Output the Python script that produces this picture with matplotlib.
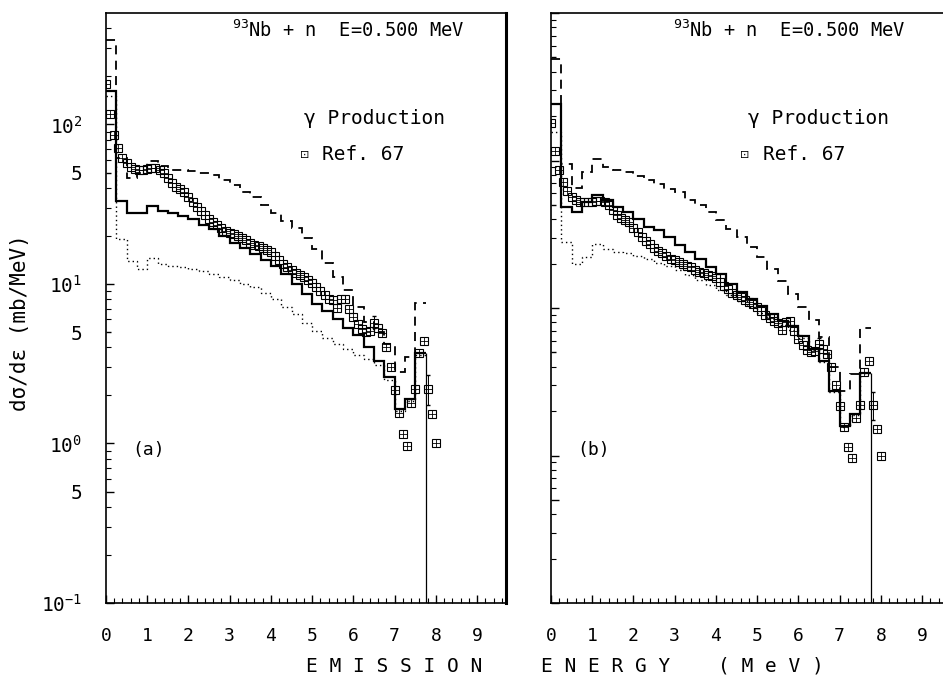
import numpy as np
import matplotlib
matplotlib.use("Agg")
import matplotlib.pyplot as plt
from matplotlib.ticker import FixedLocator, FixedFormatter, MultipleLocator, NullFormatter, LogLocator

W, H = 943, 679

plt.rcParams['font.family'] = ['DejaVu Sans Mono', 'DejaVu Sans']
plt.rcParams['mathtext.fontset'] = 'custom'
plt.rcParams['mathtext.rm'] = 'DejaVu Sans Mono'
plt.rcParams['mathtext.default'] = 'rm'

# histogram bins (MeV)
bin_edges = [0.0, 0.25, 0.5, 0.75, 1.0, 1.25, 1.5, 1.75, 2.0, 2.25, 2.5, 2.75,
             3.0, 3.25, 3.5, 3.75, 4.0, 4.25, 4.5, 4.75, 5.0, 5.25, 5.5, 5.75,
             6.0, 6.25, 6.5, 6.75, 7.0, 7.25, 7.5, 7.75]

# panel (a) calculations
solid_a = [163, 33, 28, 28, 31, 28.6, 27.9, 26.6, 25.4, 23.6, 22, 20, 18.1, 16.8, 15.5,
           14.2, 13.0, 11.5, 10.0, 8.6, 7.5, 6.8, 6.0, 5.3, 4.8, 4.0, 3.3, 2.6, 1.65, 1.9, 3.7]
dashed_a = [340, 62, 46, 50, 59, 55, 52, 52, 51, 50, 48, 45, 42, 38, 35, 31.5, 28, 25,
            22.5, 19.4, 16.5, 13.5, 11, 9.2, 7.2, 5.8, 5.0, 4.2, 2.8, 3.5, 7.6]
dotted_a = [150, 19.2, 14, 12.5, 14.5, 13.3, 13, 12.8, 12.4, 12.0, 11.5, 11.1, 10.6, 10.0,
            9.6, 8.8, 8.0, 7.2, 6.5, 5.7, 5.1, 4.6, 4.2, 3.9, 3.6, 3.4, 3.1, 2.5, 1.6, 1.85, 3.6]

# panel (b) calculations
solid_b = [242, 48.4, 44.8, 52.4, 58, 53.7, 48.4, 44.8, 40.3, 35.4, 33.6, 30.3, 26.6, 23.9,
           21.5, 19, 17, 14.5, 12.8, 11.5, 10.3, 9.1, 8.2, 7.5, 6.5, 5.3, 4.4, 2.75, 1.58, 1.9, 3.65]
dashed_b = [490, 95, 65, 84, 103, 91, 86, 83, 78, 74, 69, 64.5, 61, 54, 50, 45, 39.3, 34.4,
            30.4, 26, 22.2, 18.4, 15.3, 12.4, 10.2, 8.3, 6.4, 4.0, 2.73, 3.56, 7.3]
dotted_b = [157, 28, 20, 22, 27, 25, 24, 23.5, 22.5, 21.5, 20.3, 19.2, 18, 16.8, 15.5, 14.3,
            13.2, 12.2, 11.2, 10.2, 9.2, 8.4, 7.7, 7.1, 6.3, 5.2, 4.3, 2.7, 1.56, 1.88, 3.6]

# Ref. 67 experimental points
ref_e = [0.0, 0.1, 0.2, 0.3, 0.4, 0.5, 0.6, 0.7, 0.8, 0.9,
         1.0, 1.1, 1.2, 1.3, 1.4, 1.5, 1.6, 1.7, 1.8, 1.9,
         2.0, 2.1, 2.2, 2.3, 2.4, 2.5, 2.6, 2.7, 2.8, 2.9,
         3.0, 3.1, 3.2, 3.3, 3.4, 3.5, 3.6, 3.7, 3.8, 3.9,
         4.0, 4.1, 4.2, 4.3, 4.4, 4.5, 4.6, 4.7, 4.8, 4.9,
         5.0, 5.1, 5.2, 5.3, 5.4, 5.5, 5.6, 5.7, 5.8, 5.9,
         6.0, 6.1, 6.2, 6.3, 6.4, 6.5, 6.6, 6.7, 6.8, 6.9,
         7.0, 7.1, 7.2, 7.3, 7.4, 7.5, 7.6, 7.7, 7.8, 7.9, 8.0]
ref_v = [180, 116, 86, 71, 62, 57, 54, 52.5, 52, 52,
         52.5, 53.5, 53, 52, 50, 46, 43, 40.5, 39.5, 38,
         35, 32.5, 30.5, 28.5, 27, 25.5, 24.5, 23.5, 22.5, 21.5,
         21, 20.5, 20, 19.4, 18.9, 18.2, 17.6, 17.2, 16.8, 16.4,
         15.9, 15, 14.2, 13.4, 12.7, 12.2, 11.8, 11.4, 11.0, 10.6,
         10.2, 9.6, 9.0, 8.5, 8.1, 7.9, 7.1, 8.0, 8.1, 7.0,
         6.2, 5.6, 5.2, 5.0, 5.1, 5.7, 5.3, 4.9, 4.0, 3.0,
         2.15, 1.55, 1.14, 0.96, 1.8, 2.2, 3.7, 4.4, 2.2, 1.52, 1.0]
err_e = [6.5, 7.8]
err_lo = [5.3, 1.75]
err_hi = [6.3, 2.7]

ytick_vals_a = [0.1, 0.5, 1, 5, 10, 50, 100]
ytick_labels_a = ['$10^{-1}$', '5', '$10^{0}$', '5', '$10^{1}$', '5', '$10^{2}$']
ytick_vals_b = [0.1, 0.5, 1, 5, 10, 50, 100, 500, 1000]
xtick_vals = [0, 1, 2, 3, 4, 5, 6, 7, 8, 9]


def px(x, y):
    return x / W, 1 - y / H


def draw_panel(ax, solid, dashed, dotted, ytop, yticks, ylabels):
    ax.set_yscale('log')
    ax.set_xlim(0, 9.7)
    ax.set_ylim(0.1, ytop)

    ax.stairs(dotted, bin_edges, baseline=None, color='k', lw=1.0, ls=(0, (1, 2.2)))
    ax.stairs(dashed, bin_edges, baseline=None, color='k', lw=1.3, ls=(0, (5, 3.5)))
    ax.stairs(solid, bin_edges, baseline=None, color='k', lw=1.6)
    ax.vlines(bin_edges[-1], 0.1, solid[-1], color='k', lw=0.9)

    ax.plot(ref_e, ref_v, ls='none', marker='s', ms=6, mfc='none', mec='k', mew=0.8)
    ax.plot(ref_e, ref_v, ls='none', marker='+', ms=6, mec='k', mew=0.6)
    err_v = [ref_v[ref_e.index(e)] for e in err_e]
    yerr = [[v - lo for v, lo in zip(err_v, err_lo)], [hi - v for v, hi in zip(err_v, err_hi)]]
    ax.errorbar(err_e, err_v, yerr=yerr, fmt='none', ecolor='k', elinewidth=0.7, capsize=1.5)

    ax.xaxis.set_major_locator(FixedLocator(xtick_vals))
    ax.xaxis.set_minor_locator(MultipleLocator(0.2))
    ax.yaxis.set_major_locator(FixedLocator(yticks))
    ax.yaxis.set_minor_locator(LogLocator(base=10, subs=(2, 3, 4, 6, 7, 8, 9)))
    ax.yaxis.set_minor_formatter(NullFormatter())
    if ylabels is None:
        ax.yaxis.set_major_formatter(NullFormatter())
    else:
        ax.yaxis.set_major_formatter(FixedFormatter(ylabels))

    ax.tick_params(axis='both', which='major', direction='in', length=6, width=1, color='k')
    ax.tick_params(axis='both', which='minor', direction='in', length=3.5, width=0.8, color='k')
    ax.tick_params(axis='x', which='major', labelsize=13, pad=17)
    ax.tick_params(axis='y', which='major', labelsize=14, pad=17)
    # the 5's get short ticks, decades long ones
    for val, tick in zip(yticks, ax.yaxis.get_major_ticks()):
        if str(val).startswith('5'):
            tick.tick1line.set_markersize(3.5)
    for spine in ax.spines.values():
        spine.set_linewidth(1.2)
    ax.spines['right'].set_linewidth(2.2)


fig = plt.figure(figsize=(W / 100, H / 100), dpi=100)
ax_a = fig.add_axes([106 / W, (H - 603) / H, 400 / W, 590 / H])
ax_b = fig.add_axes([551 / W, (H - 603) / H, 400 / W, 590 / H])

draw_panel(ax_a, solid_a, dashed_a, dotted_a, 500, ytick_vals_a, ytick_labels_a)
draw_panel(ax_b, solid_b, dashed_b, dotted_b, 1000, ytick_vals_b, None)

# panel texts
for x0, xl, xs, xr, xt, tag in [(232, 304, 305, 322, 132, '(a)'), (673, 748, 745, 763, 577, '(b)')]:
    fig.text(*px(x0, 30), '$^{93}$Nb + n  E=0.500 MeV', fontsize=13.5, ha='left', va='center')
    fig.text(*px(xl, 118), '\u03b3 Production', fontsize=14, ha='left', va='center')
    fig.text(*px(xs, 155), '\u22a1', fontsize=8, ha='center', va='center',
             family=['DejaVu Sans'])
    fig.text(*px(xr, 155), 'Ref. 67', fontsize=14, ha='left', va='center')
    fig.text(*px(xt, 450), tag, fontsize=13, ha='left', va='center')

fig.text(*px(20, 323), 'd\u03c3/d\u03b5 (mb/MeV)', fontsize=15, rotation=90,
         ha='center', va='center')
fig.text(*px(394, 666), 'E M I S S I O N', fontsize=14, ha='center', va='center')
fig.text(*px(606, 666), 'E N E R G Y', fontsize=14, ha='center', va='center')
fig.text(*px(771, 666), '( M e V )', fontsize=14, ha='center', va='center')

fig.savefig('out.png', dpi=100)
